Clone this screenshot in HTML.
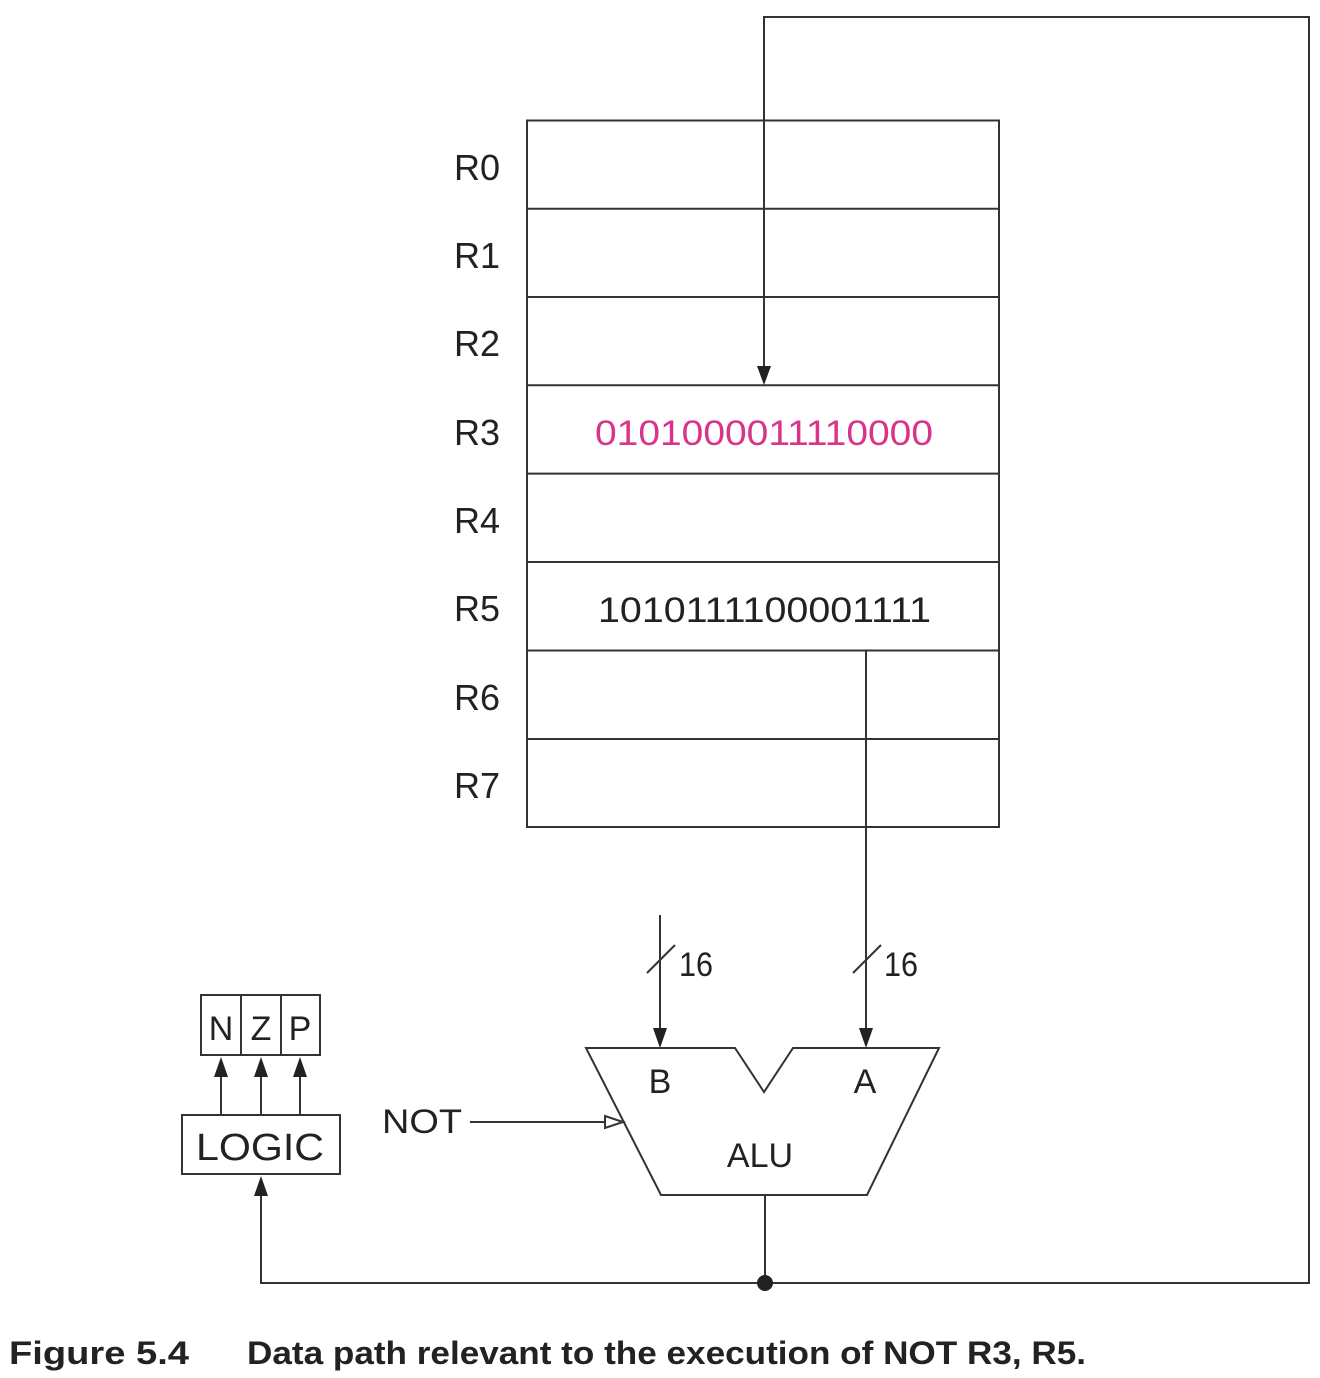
<!DOCTYPE html>
<html><head><meta charset="utf-8"><style>
html,body{margin:0;padding:0;background:#fff;}
svg{display:block;}
text{font-family:"Liberation Sans",sans-serif;fill:#222;}
</style></head><body>
<svg width="1320" height="1378" viewBox="0 0 1320 1378" xmlns="http://www.w3.org/2000/svg">
<defs>
<marker id="ar" viewBox="0 0 10 10" refX="10" refY="5" markerWidth="10" markerHeight="10" markerUnits="userSpaceOnUse" orient="auto"><path d="M0,0 L10,5 L0,10 z" fill="#222"/></marker>
</defs>
<g stroke="#333" stroke-width="2" fill="none">
<rect x="527" y="120.5" width="472" height="706.5"/>
<line x1="527" y1="208.8" x2="999" y2="208.8"/>
<line x1="527" y1="297" x2="999" y2="297"/>
<line x1="527" y1="385.3" x2="999" y2="385.3"/>
<line x1="527" y1="473.6" x2="999" y2="473.6"/>
<line x1="527" y1="562" x2="999" y2="562"/>
<line x1="527" y1="650.5" x2="999" y2="650.5"/>
<line x1="527" y1="739" x2="999" y2="739"/>
<!-- feedback loop -->
<polyline points="765,1283 1309,1283 1309,17 764,17 764,366"/>
<path d="M757,366 L771,366 L764,385 z" fill="#222" stroke="none"/>
<!-- A line -->
<line x1="866" y1="651" x2="866" y2="1030"/>
<path d="M859,1028 L873,1028 L866,1048 z" fill="#222" stroke="none"/>
<!-- B line -->
<line x1="660" y1="915" x2="660" y2="1030"/>
<path d="M653,1028 L667,1028 L660,1048 z" fill="#222" stroke="none"/>
<line x1="647" y1="973" x2="675" y2="945"/>
<line x1="853" y1="973" x2="881" y2="945"/>
<!-- ALU -->
<polygon points="586,1048 735,1048 764,1092 793,1048 939,1048 867,1195 661,1195"/>
<line x1="765" y1="1195" x2="765" y2="1283"/>
<!-- NOT -->
<line x1="470" y1="1122" x2="607" y2="1122"/>
<path d="M605,1116 L623,1122 L605,1128 z" fill="#fff"/>
<!-- bottom to logic -->
<polyline points="765,1283 261,1283 261,1195"/>
<path d="M254,1196 L268,1196 L261,1176 z" fill="#222" stroke="none"/>
<!-- LOGIC -->
<rect x="182" y="1115" width="158" height="59"/>
<rect x="201" y="995" width="119" height="60"/>
<line x1="241" y1="995" x2="241" y2="1055"/>
<line x1="281" y1="995" x2="281" y2="1055"/>
<line x1="221" y1="1115" x2="221" y2="1075"/>
<line x1="261" y1="1115" x2="261" y2="1075"/>
<line x1="300" y1="1115" x2="300" y2="1075"/>
</g>
<g fill="#222">
<path d="M214,1077 L228,1077 L221,1057 z"/>
<path d="M254,1077 L268,1077 L261,1057 z"/>
<path d="M293,1077 L307,1077 L300,1057 z"/>
<circle cx="765" cy="1283" r="8"/>
</g>
<g font-size="36" text-anchor="end">
<text x="500" y="180">R0</text>
<text x="500" y="268">R1</text>
<text x="500" y="356">R2</text>
<text x="500" y="445">R3</text>
<text x="500" y="533">R4</text>
<text x="500" y="621">R5</text>
<text x="500" y="710">R6</text>
<text x="500" y="798">R7</text>
</g>
<text x="595" y="445" font-size="35" textLength="338" lengthAdjust="spacingAndGlyphs" style="fill:#d9338a">0101000011110000</text>
<text x="598" y="622" font-size="35" textLength="333" lengthAdjust="spacingAndGlyphs">1010111100001111</text>
<text x="679" y="976" font-size="34" textLength="34" lengthAdjust="spacingAndGlyphs">16</text>
<text x="884" y="976" font-size="34" textLength="34" lengthAdjust="spacingAndGlyphs">16</text>
<text x="660" y="1093" font-size="34" text-anchor="middle">B</text>
<text x="865" y="1093" font-size="34" text-anchor="middle">A</text>
<text x="760" y="1167" font-size="34" text-anchor="middle">ALU</text>
<text x="382" y="1133" font-size="34" textLength="80" lengthAdjust="spacingAndGlyphs">NOT</text>
<text x="196" y="1160" font-size="38" textLength="128" lengthAdjust="spacingAndGlyphs">LOGIC</text>
<text x="221" y="1040" font-size="34" text-anchor="middle">N</text>
<text x="261" y="1040" font-size="34" text-anchor="middle">Z</text>
<text x="300" y="1040" font-size="34" text-anchor="middle">P</text>
<text x="9" y="1364" font-size="32" font-weight="bold" textLength="180" lengthAdjust="spacingAndGlyphs">Figure 5.4</text>
<text x="247" y="1364" font-size="32" font-weight="bold" textLength="839" lengthAdjust="spacingAndGlyphs">Data path relevant to the execution of NOT R3, R5.</text>
</svg>
</body></html>
